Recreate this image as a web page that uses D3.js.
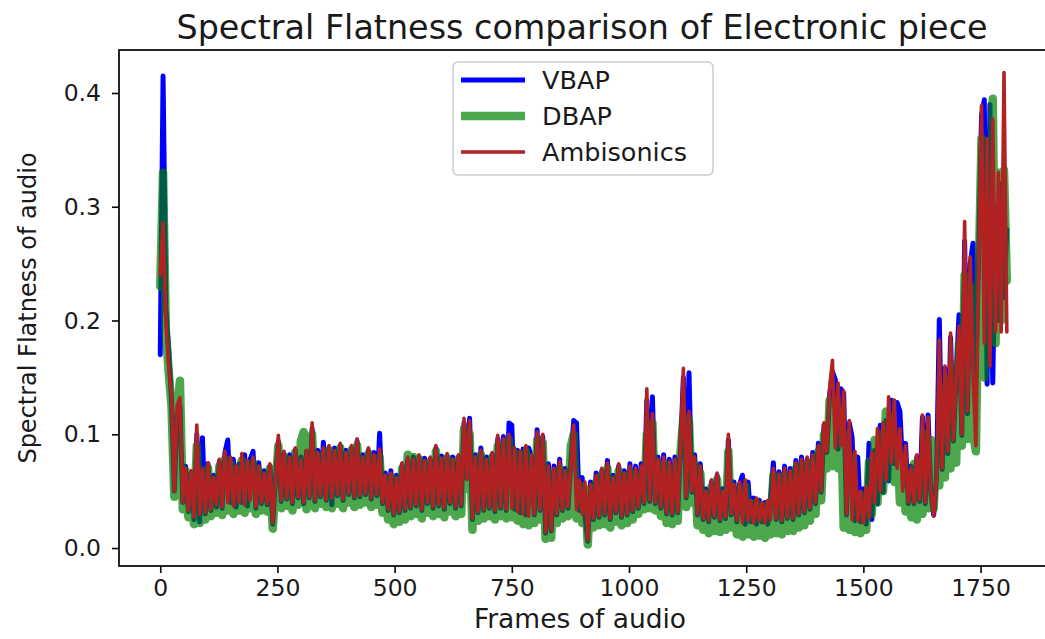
<!DOCTYPE html>
<html>
<head>
<meta charset="utf-8">
<script src="https://cdn.jsdelivr.net/npm/d3@7"></script>
<style>
  body { margin: 0; background: #fff; }
  text { font-family: "DejaVu Sans", sans-serif; fill: #1a1a1a; }
</style>
</head>
<body>
<div id="chart"></div>
<script>
// frame spacing between the values below
const STEP = 6;

const vbap = [
  0.17, 0.415, 0.21, 0.174, 0.13, 0.05, 0.118, 0.125, 0.04, 0.072,
  0.032, 0.066, 0.025, 0.1, 0.023, 0.097, 0.03, 0.074, 0.033, 0.064,
  0.036, 0.076, 0.035, 0.084, 0.095, 0.04, 0.078, 0.036, 0.074, 0.04,
  0.082, 0.037, 0.078, 0.085, 0.035, 0.075, 0.039, 0.068, 0.038, 0.072,
  0.021, 0.062, 0.094, 0.041, 0.083, 0.043, 0.082, 0.039, 0.086, 0.044,
  0.08, 0.039, 0.085, 0.044, 0.105, 0.041, 0.086, 0.045, 0.093, 0.042,
  0.088, 0.038, 0.088, 0.046, 0.09, 0.042, 0.086, 0.047, 0.088, 0.044,
  0.094, 0.045, 0.082, 0.047, 0.086, 0.043, 0.084, 0.046, 0.101, 0.039,
  0.066, 0.033, 0.068, 0.029, 0.064, 0.031, 0.073, 0.033, 0.078, 0.035,
  0.08, 0.037, 0.08, 0.033, 0.079, 0.039, 0.078, 0.035, 0.088, 0.037,
  0.081, 0.034, 0.081, 0.039, 0.08, 0.035, 0.08, 0.037, 0.11, 0.062,
  0.114, 0.025, 0.082, 0.031, 0.088, 0.033, 0.08, 0.035, 0.082, 0.032,
  0.096, 0.035, 0.098, 0.033, 0.11, 0.108, 0.034, 0.086, 0.031, 0.087,
  0.029, 0.088, 0.08, 0.029, 0.104, 0.033, 0.098, 0.013, 0.074, 0.015,
  0.072, 0.029, 0.078, 0.033, 0.07, 0.035, 0.076, 0.112, 0.11, 0.033,
  0.062, 0.029, 0.006, 0.058, 0.025, 0.066, 0.027, 0.068, 0.029, 0.077,
  0.025, 0.064, 0.031, 0.072, 0.027, 0.068, 0.029, 0.074, 0.032, 0.072,
  0.035, 0.074, 0.039, 0.13, 0.041, 0.133, 0.039, 0.08, 0.035, 0.082,
  0.03, 0.078, 0.029, 0.08, 0.031, 0.088, 0.15, 0.044, 0.154, 0.049,
  0.082, 0.029, 0.074, 0.025, 0.052, 0.023, 0.058, 0.027, 0.064, 0.024,
  0.052, 0.026, 0.095, 0.029, 0.058, 0.023, 0.056, 0.064, 0.021, 0.058,
  0.023, 0.044, 0.021, 0.042, 0.023, 0.04, 0.021, 0.044, 0.075, 0.025,
  0.067, 0.023, 0.072, 0.026, 0.07, 0.025, 0.077, 0.029, 0.08, 0.031,
  0.078, 0.034, 0.084, 0.039, 0.092, 0.049, 0.108, 0.084, 0.135, 0.155,
  0.148, 0.087, 0.14, 0.136, 0.029, 0.11, 0.097, 0.024, 0.08, 0.023,
  0.052, 0.021, 0.092, 0.025, 0.086, 0.039, 0.108, 0.049, 0.112, 0.059,
  0.13, 0.074, 0.128, 0.12, 0.069, 0.092, 0.039, 0.072, 0.039, 0.08,
  0.041, 0.115, 0.039, 0.117, 0.048, 0.029, 0.062, 0.201, 0.069, 0.158,
  0.083, 0.185, 0.094, 0.152, 0.205, 0.099, 0.27, 0.118, 0.25, 0.268,
  0.15, 0.26, 0.38, 0.394, 0.144, 0.39, 0.145, 0.3, 0.2, 0.32,
  0.22, 0.28
];

const dbap = [
  0.23, 0.33, 0.19, 0.155, 0.125, 0.045, 0.12, 0.147, 0.034, 0.068,
  0.027, 0.062, 0.021, 0.09, 0.022, 0.066, 0.025, 0.07, 0.028, 0.058,
  0.031, 0.072, 0.029, 0.078, 0.033, 0.074, 0.03, 0.068, 0.033, 0.077,
  0.031, 0.072, 0.035, 0.075, 0.03, 0.068, 0.033, 0.062, 0.032, 0.07,
  0.017, 0.056, 0.09, 0.035, 0.08, 0.037, 0.076, 0.033, 0.084, 0.038,
  0.094, 0.102, 0.034, 0.082, 0.1, 0.035, 0.08, 0.039, 0.082, 0.036,
  0.086, 0.035, 0.082, 0.039, 0.088, 0.035, 0.08, 0.04, 0.086, 0.036,
  0.09, 0.038, 0.076, 0.04, 0.083, 0.036, 0.078, 0.038, 0.08, 0.031,
  0.06, 0.025, 0.062, 0.021, 0.058, 0.023, 0.07, 0.025, 0.082, 0.028,
  0.08, 0.03, 0.078, 0.026, 0.073, 0.031, 0.076, 0.028, 0.085, 0.03,
  0.075, 0.027, 0.079, 0.032, 0.074, 0.028, 0.078, 0.03, 0.105, 0.052,
  0.1, 0.016, 0.076, 0.024, 0.082, 0.026, 0.074, 0.028, 0.08, 0.025,
  0.09, 0.028, 0.09, 0.026, 0.095, 0.027, 0.084, 0.024, 0.08, 0.021,
  0.085, 0.02, 0.078, 0.022, 0.095, 0.025, 0.092, 0.008, 0.066, 0.009,
  0.065, 0.022, 0.07, 0.026, 0.063, 0.028, 0.09, 0.1, 0.026, 0.055,
  0.022, 0.052, 0.003, 0.05, 0.018, 0.058, 0.02, 0.064, 0.021, 0.07,
  0.018, 0.056, 0.023, 0.068, 0.02, 0.06, 0.022, 0.066, 0.025, 0.064,
  0.03, 0.066, 0.034, 0.1, 0.035, 0.11, 0.033, 0.072, 0.028, 0.074,
  0.022, 0.07, 0.021, 0.072, 0.024, 0.085, 0.115, 0.036, 0.112, 0.04,
  0.074, 0.02, 0.066, 0.016, 0.044, 0.013, 0.054, 0.015, 0.06, 0.014,
  0.046, 0.016, 0.085, 0.018, 0.05, 0.012, 0.052, 0.01, 0.054, 0.012,
  0.038, 0.01, 0.04, 0.011, 0.036, 0.009, 0.038, 0.012, 0.064, 0.013,
  0.06, 0.012, 0.064, 0.015, 0.062, 0.015, 0.07, 0.018, 0.072, 0.02,
  0.074, 0.024, 0.076, 0.03, 0.085, 0.042, 0.1, 0.07, 0.13, 0.072,
  0.128, 0.07, 0.12, 0.018, 0.1, 0.016, 0.08, 0.014, 0.045, 0.013,
  0.046, 0.016, 0.076, 0.03, 0.095, 0.04, 0.1, 0.05, 0.12, 0.062,
  0.115, 0.058, 0.095, 0.04, 0.08, 0.032, 0.065, 0.027, 0.074, 0.025,
  0.075, 0.03, 0.1, 0.035, 0.095, 0.035, 0.09, 0.055, 0.14, 0.062,
  0.15, 0.07, 0.16, 0.075, 0.18, 0.09, 0.24, 0.096, 0.23, 0.1,
  0.085, 0.24, 0.36, 0.15, 0.35, 0.2, 0.395, 0.18, 0.33, 0.2,
  0.332, 0.235
];

const ambisonics = [
  0.24, 0.286, 0.2, 0.16, 0.135, 0.05, 0.125, 0.132, 0.04, 0.07,
  0.033, 0.068, 0.027, 0.108, 0.03, 0.07, 0.031, 0.075, 0.034, 0.062,
  0.038, 0.078, 0.036, 0.085, 0.04, 0.08, 0.037, 0.072, 0.04, 0.083,
  0.038, 0.077, 0.042, 0.08, 0.036, 0.072, 0.04, 0.066, 0.039, 0.074,
  0.022, 0.06, 0.099, 0.042, 0.085, 0.044, 0.08, 0.04, 0.088, 0.045,
  0.078, 0.04, 0.086, 0.045, 0.11, 0.042, 0.084, 0.046, 0.088, 0.043,
  0.09, 0.044, 0.086, 0.047, 0.092, 0.043, 0.084, 0.048, 0.09, 0.045,
  0.096, 0.046, 0.08, 0.048, 0.088, 0.044, 0.082, 0.047, 0.087, 0.04,
  0.064, 0.034, 0.066, 0.03, 0.062, 0.032, 0.075, 0.034, 0.08, 0.036,
  0.078, 0.038, 0.082, 0.034, 0.077, 0.04, 0.08, 0.036, 0.09, 0.038,
  0.079, 0.035, 0.083, 0.04, 0.078, 0.036, 0.082, 0.038, 0.114, 0.06,
  0.112, 0.026, 0.08, 0.032, 0.086, 0.034, 0.078, 0.036, 0.084, 0.033,
  0.099, 0.036, 0.096, 0.034, 0.1, 0.035, 0.088, 0.032, 0.085, 0.03,
  0.09, 0.028, 0.082, 0.03, 0.102, 0.034, 0.1, 0.014, 0.072, 0.016,
  0.07, 0.03, 0.076, 0.034, 0.068, 0.036, 0.074, 0.108, 0.034, 0.06,
  0.03, 0.058, 0.007, 0.056, 0.026, 0.064, 0.028, 0.07, 0.03, 0.075,
  0.026, 0.062, 0.032, 0.074, 0.028, 0.066, 0.03, 0.072, 0.033, 0.07,
  0.036, 0.072, 0.04, 0.14, 0.042, 0.118, 0.04, 0.078, 0.036, 0.08,
  0.031, 0.076, 0.03, 0.078, 0.032, 0.09, 0.158, 0.045, 0.12, 0.05,
  0.08, 0.03, 0.072, 0.026, 0.05, 0.024, 0.06, 0.028, 0.066, 0.025,
  0.05, 0.027, 0.1, 0.03, 0.056, 0.024, 0.058, 0.022, 0.06, 0.024,
  0.042, 0.022, 0.044, 0.024, 0.04, 0.022, 0.042, 0.025, 0.07, 0.026,
  0.065, 0.024, 0.07, 0.027, 0.068, 0.026, 0.075, 0.03, 0.078, 0.032,
  0.08, 0.035, 0.082, 0.04, 0.09, 0.05, 0.11, 0.085, 0.14, 0.165,
  0.088, 0.145, 0.09, 0.138, 0.03, 0.112, 0.025, 0.085, 0.024, 0.05,
  0.022, 0.054, 0.026, 0.084, 0.04, 0.105, 0.05, 0.11, 0.06, 0.133,
  0.075, 0.13, 0.07, 0.105, 0.05, 0.09, 0.04, 0.07, 0.04, 0.082,
  0.042, 0.117, 0.04, 0.115, 0.05, 0.028, 0.06, 0.183, 0.07, 0.16,
  0.085, 0.189, 0.095, 0.15, 0.195, 0.1, 0.287, 0.12, 0.256, 0.15,
  0.09, 0.25, 0.389, 0.18, 0.36, 0.16, 0.377, 0.19, 0.33, 0.19,
  0.418, 0.19
];

const series = [
  {name: "VBAP", values: vbap, color: "#0000ff", width: 5, opacity: 1},
  {name: "DBAP", values: dbap, color: "#008000", width: 8.5, opacity: 0.7},
  {name: "Ambisonics", values: ambisonics, color: "#b22222", width: 3.6, opacity: 1}
];

const xTicks = [0, 250, 500, 750, 1000, 1250, 1500, 1750];
const yTicks = [0.0, 0.1, 0.2, 0.3, 0.4];

const W = 1045, H = 639;
const plot = {left: 119, right: 1049, top: 50, bottom: 566};

const svg = d3.select("#chart").append("svg")
  .attr("width", W)
  .attr("height", H);

const x = d3.scaleLinear().domain([-88, 1896]).range([plot.left, plot.right]);
const y = d3.scaleLinear().domain([-0.0158, 0.4378]).range([plot.bottom, plot.top]);

svg.append("clipPath").attr("id", "clip")
  .append("rect")
  .attr("x", plot.left).attr("y", plot.top)
  .attr("width", plot.right - plot.left).attr("height", plot.bottom - plot.top);

const line = d3.line()
  .x((d, i) => x(i * STEP))
  .y(d => y(d));

svg.append("g").attr("clip-path", "url(#clip)")
  .selectAll("path")
  .data(series)
  .enter().append("path")
  .attr("d", d => line(d.values))
  .attr("fill", "none")
  .attr("stroke", d => d.color)
  .attr("stroke-opacity", d => d.opacity)
  .attr("stroke-width", d => d.width)
  .attr("stroke-linejoin", "round")
  .attr("stroke-linecap", "round");

// axes
const xAxis = svg.append("g")
  .attr("transform", "translate(0," + plot.bottom + ")")
  .call(d3.axisBottom(x).tickValues(xTicks).tickFormat(d3.format("d")).tickSize(7).tickPadding(6));

const yAxis = svg.append("g")
  .attr("transform", "translate(" + plot.left + ",0)")
  .call(d3.axisLeft(y).tickValues(yTicks).tickFormat(d3.format(".1f")).tickSize(7).tickPadding(11));

[xAxis, yAxis].forEach(a => {
  a.select(".domain").remove();
  a.selectAll(".tick line").attr("stroke", "#000").attr("stroke-width", 1.6);
  a.selectAll(".tick text").attr("font-size", 23.5).attr("fill", "#1a1a1a")
    .style("font-family", "DejaVu Sans");
});

// spines
svg.append("rect")
  .attr("x", plot.left).attr("y", plot.top)
  .attr("width", plot.right - plot.left).attr("height", plot.bottom - plot.top)
  .attr("fill", "none").attr("stroke", "#000").attr("stroke-width", 1.7);

svg.append("text")
  .attr("x", 582).attr("y", 39)
  .attr("text-anchor", "middle")
  .attr("font-size", 33.4)
  .text("Spectral Flatness comparison of Electronic piece");

svg.append("text")
  .attr("x", 580).attr("y", 628)
  .attr("text-anchor", "middle")
  .attr("font-size", 26.5)
  .text("Frames of audio");

svg.append("text")
  .attr("transform", "translate(36,308) rotate(-90)")
  .attr("text-anchor", "middle")
  .attr("font-size", 24)
  .text("Spectral Flatness of audio");

// legend
const legend = svg.append("g").attr("transform", "translate(453,62)");
legend.append("rect")
  .attr("width", 260).attr("height", 113)
  .attr("rx", 5)
  .attr("fill", "#fff").attr("fill-opacity", 0.8)
  .attr("stroke", "#cccccc").attr("stroke-width", 1.5);

const entry = legend.selectAll(".entry")
  .data(series)
  .enter().append("g")
  .attr("class", "entry")
  .attr("transform", (d, i) => "translate(0," + (18 + i * 36) + ")");

entry.append("line")
  .attr("x1", 8).attr("x2", 72)
  .attr("stroke", d => d.color)
  .attr("stroke-opacity", d => d.opacity)
  .attr("stroke-width", d => d.width);

entry.append("text")
  .attr("x", 89).attr("dy", "0.35em")
  .attr("font-size", 25.5)
  .text(d => d.name);
</script>
</body>
</html>
